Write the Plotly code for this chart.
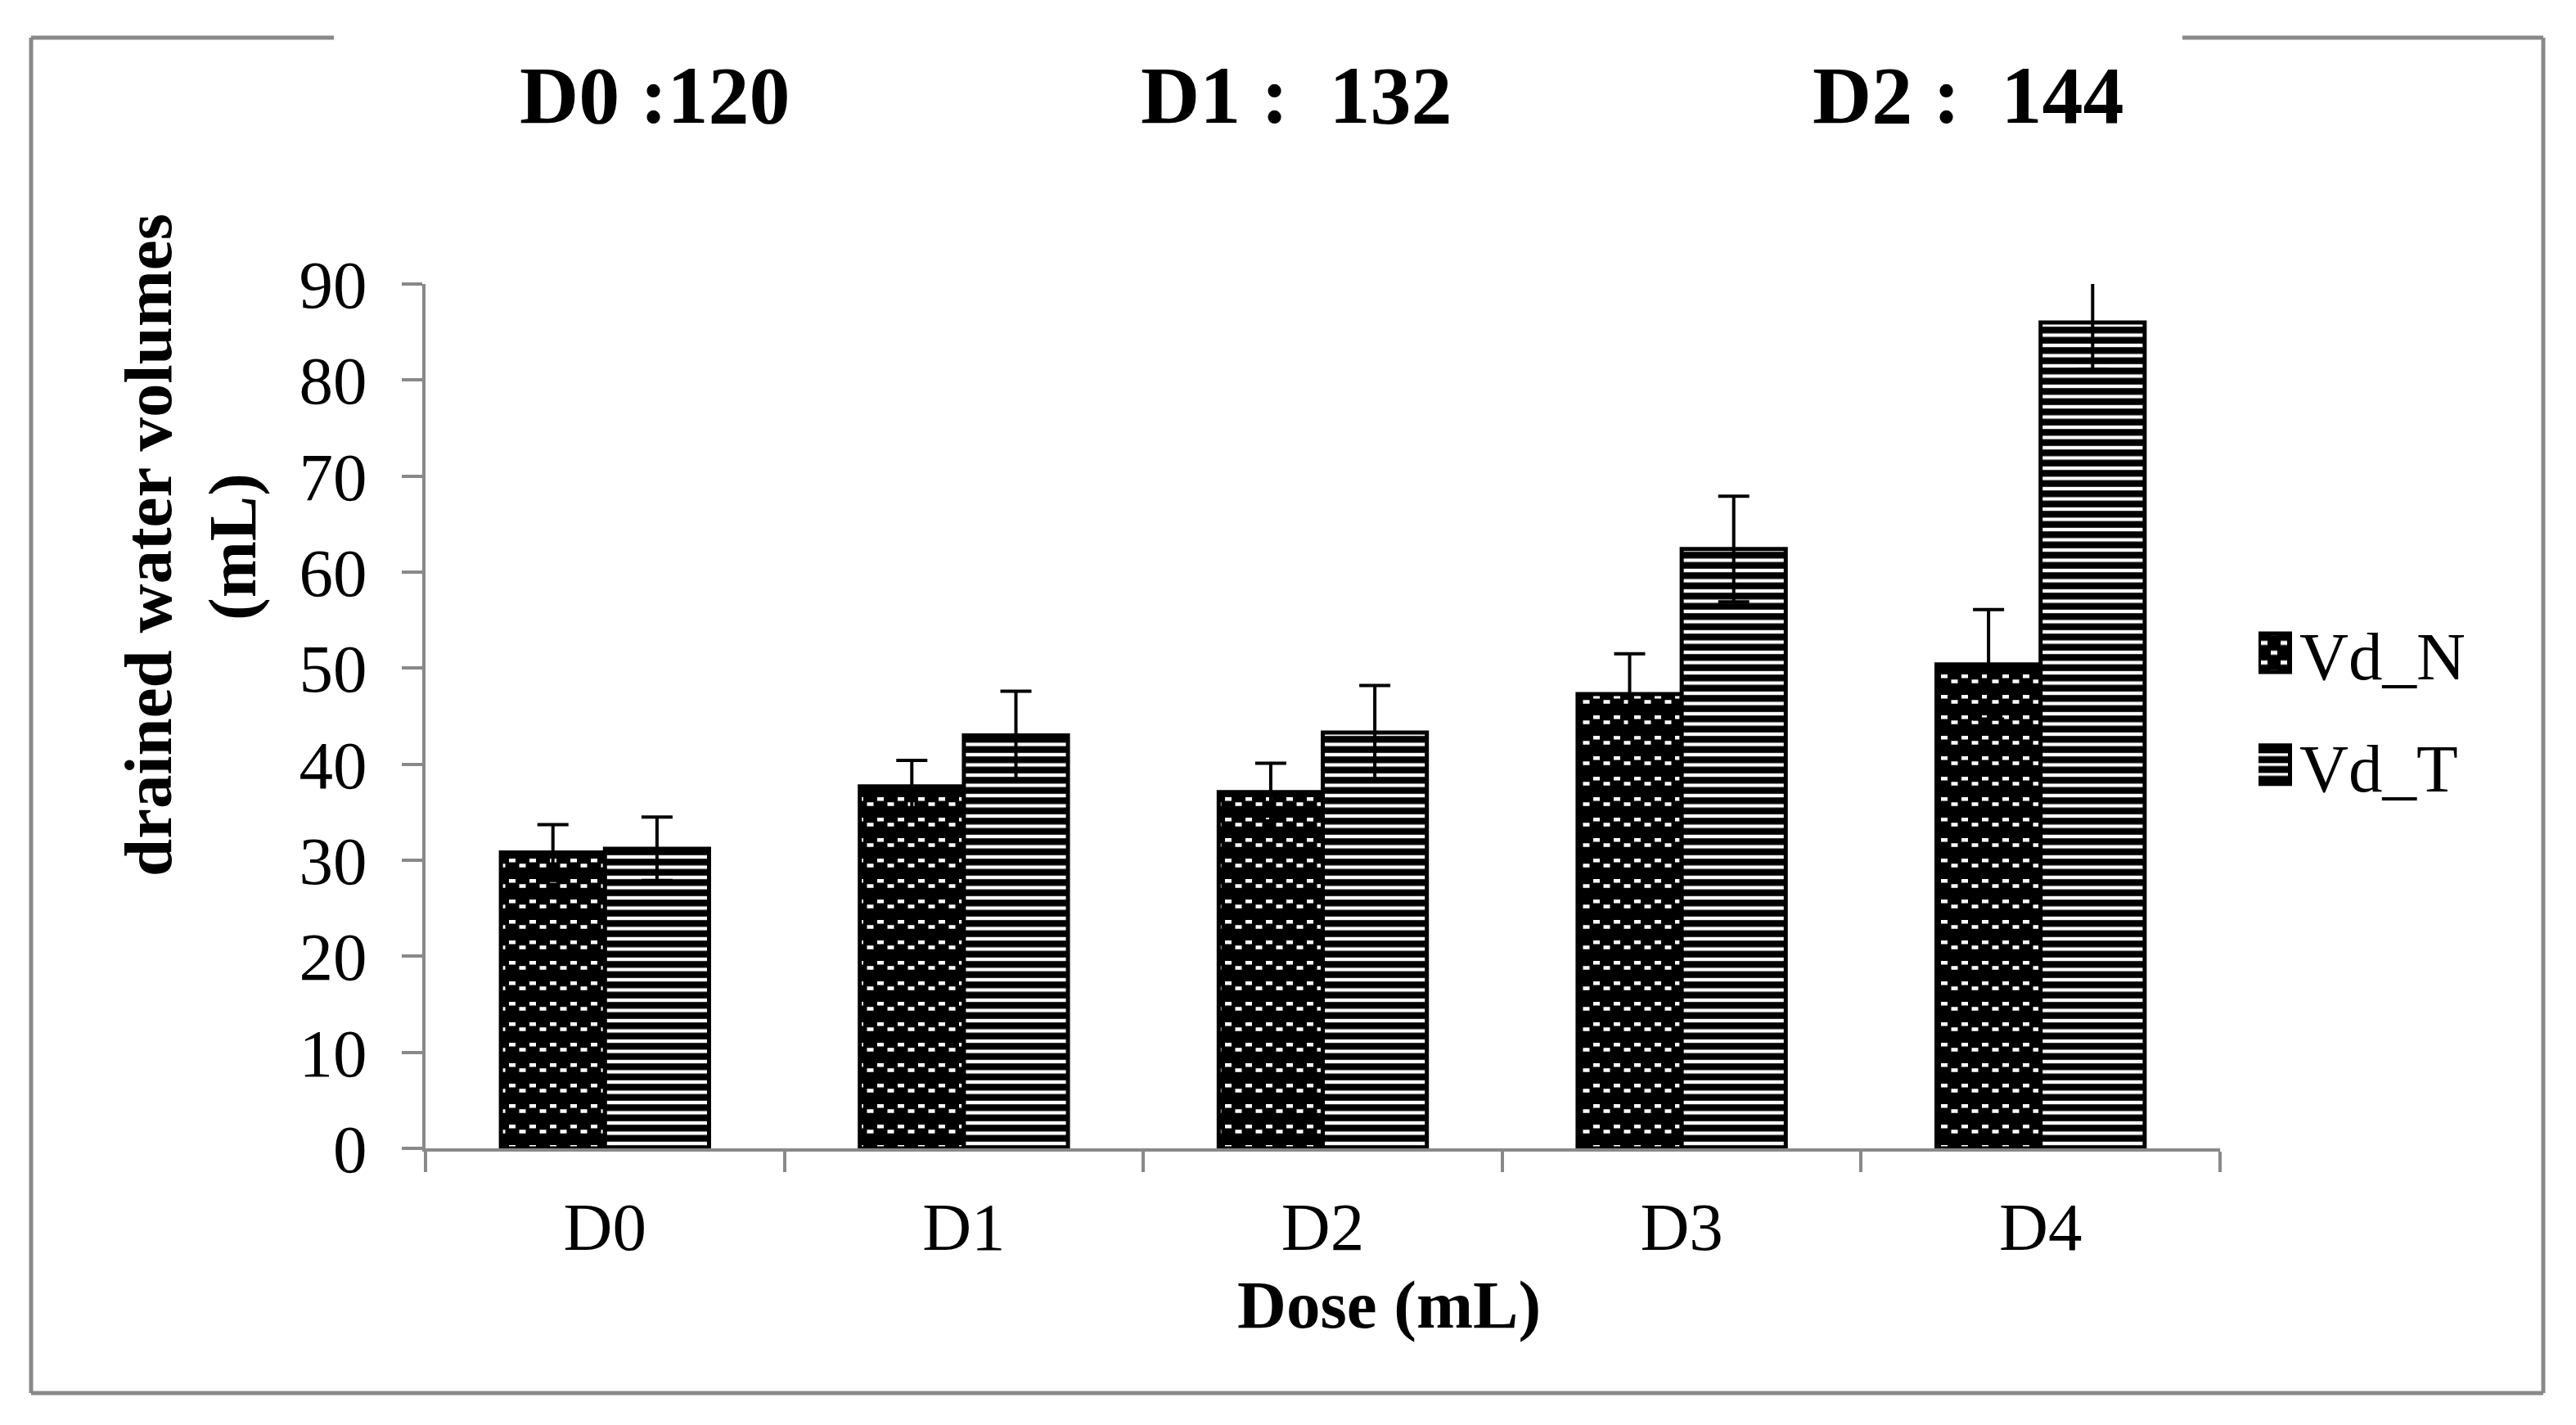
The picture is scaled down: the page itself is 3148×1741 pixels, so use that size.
import plotly.graph_objects as go

# ---- data ----
doses = ["D0", "D1", "D2", "D3", "D4"]
vd_n = [30.8, 37.7, 37.1, 47.3, 50.4]
vd_n_err = [2.9, 2.7, 3.0, 4.2, 5.7]
vd_t = [31.2, 43.0, 43.3, 62.4, 86.0]
vd_t_err = [3.3, 4.6, 4.9, 5.5, 4.9]
y_ticks = [0, 10, 20, 30, 40, 50, 60, 70, 80, 90]
top_labels = ["D0 :120", "D1 :\u00a0\u00a0132", "D2 :\u00a0\u00a0144"]

W, H = 3148, 1741
L, R, T, B = 520, 2713, 347, 1403  # plot area in pixels
FONT = "Liberation Serif"
GRAY = "#898989"


def px(x):
    return (x - L) / (R - L)


def py(y):
    return (B - y) / (B - T)


fig = go.Figure()
fig.add_trace(go.Bar(
    name="Vd_N", x=doses, y=vd_n, legendgroup="n",
    error_y=dict(type="data", array=vd_n_err, visible=True, color="black", thickness=4, width=19),
    marker=dict(color="black", line=dict(color="black", width=5),
                pattern=dict(path="M2,2h8v4.5h-8z M14.5,8.25h8v4.5h-8z", size=25,
                             bgcolor="black", fgcolor="white", fillmode="replace")),
))
fig.add_trace(go.Bar(
    name="Vd_T", x=doses, y=vd_t, legendgroup="t",
    error_y=dict(type="data", array=vd_t_err, visible=True, color="black", thickness=4, width=19),
    marker=dict(color="white", line=dict(color="black", width=5),
                pattern=dict(shape="-", size=12.5, solidity=0.66,
                             bgcolor="white", fgcolor="black", fillmode="replace")),
))

axis_common = dict(showline=True, linecolor=GRAY, linewidth=4, ticks="outside", ticklen=25,
                   tickwidth=4, tickcolor=GRAY, showgrid=False, zeroline=False,
                   tickfont=dict(family=FONT, size=83, color="black"))

fig.update_xaxes(type="category", tickson="boundaries", ticklabelstandoff=20, **axis_common)
fig.update_yaxes(range=[0, 90], tickvals=y_ticks, ticklabelstandoff=26, **axis_common)

annotations = []
for txt, xc in zip(top_labels, [800, 1584, 2405]):
    annotations.append(dict(text="<b>%s</b>" % txt, x=px(xc), y=py(116), xref="paper", yref="paper",
                            showarrow=False, xanchor="center", yanchor="middle",
                            font=dict(family=FONT, size=100, color="black")))
annotations.append(dict(text="<b>drained water volumes</b>", x=px(181), y=py(666), xref="paper", yref="paper",
                        showarrow=False, textangle=-90, xanchor="center", yanchor="middle",
                        font=dict(family=FONT, size=83, color="black")))
annotations.append(dict(text="<b>(mL)</b>", x=px(284), y=py(668), xref="paper", yref="paper",
                        showarrow=False, textangle=-90, xanchor="center", yanchor="middle",
                        font=dict(family=FONT, size=83, color="black")))
annotations.append(dict(text="<b>Dose (mL)</b>", x=px(1697), y=py(1594), xref="paper", yref="paper",
                        showarrow=False, xanchor="center", yanchor="middle",
                        font=dict(family=FONT, size=83, color="black")))

frame = dict(color=GRAY, width=5)
shapes = [
    dict(type="line", xref="paper", yref="paper", x0=px(38), x1=px(38), y0=py(46), y1=py(1702), line=frame),
    dict(type="line", xref="paper", yref="paper", x0=px(38), x1=px(3108), y0=py(1702), y1=py(1702), line=frame),
    dict(type="line", xref="paper", yref="paper", x0=px(3108), x1=px(3108), y0=py(46), y1=py(1702), line=frame),
    dict(type="line", xref="paper", yref="paper", x0=px(38), x1=px(408), y0=py(46), y1=py(46), line=frame),
    dict(type="line", xref="paper", yref="paper", x0=px(2667), x1=px(3108), y0=py(46), y1=py(46), line=frame),
]

fig.update_layout(
    width=W, height=H,
    margin=dict(l=L, r=W - R, t=T, b=H - B, autoexpand=False),
    paper_bgcolor="white", plot_bgcolor="white",
    barmode="group", bargap=0.42, bargroupgap=0,
    showlegend=True,
    legend=dict(x=px(2760), y=py(737), xanchor="left", yanchor="top", xref="paper", yref="paper",
                font=dict(family=FONT, size=83, color="black"), tracegroupgap=26,
                itemwidth=40, bgcolor="rgba(0,0,0,0)"),
    annotations=annotations, shapes=shapes,
    font=dict(family=FONT, color="black"),
)

post = """
(function(){
  document.documentElement.style.margin = '0';
  document.body.style.margin = '0';
  document.body.style.overflow = 'hidden';
  var ns = 'http://www.w3.org/2000/svg';
  function mkPat(svg, id, attrs, rects) {
    if (document.getElementById(id)) { return; }
    var defs = svg.querySelector('defs');
    if (!defs) { defs = document.createElementNS(ns, 'defs'); svg.insertBefore(defs, svg.firstChild); }
    var p = document.createElementNS(ns, 'pattern');
    p.setAttribute('id', id);
    p.setAttribute('patternUnits', 'userSpaceOnUse');
    for (var k in attrs) { p.setAttribute(k, attrs[k]); }
    rects.forEach(function(s){
      var r = document.createElementNS(ns, 'rect');
      for (var k2 in s) { r.setAttribute(k2, s[k2]); }
      p.appendChild(r);
    });
    defs.appendChild(p);
  }
  function fix(){
    var svg = document.querySelector('svg.main-svg');
    if (!svg) { return; }
    mkPat(svg, 'lgN', {x: -24, y: -18, width: 24, height: 24}, [
      {x: 0, y: 0, width: 24, height: 24, fill: 'black'},
      {x: 2, y: 3.5, width: 8, height: 5, fill: 'white'},
      {x: 14, y: 15.5, width: 8, height: 5, fill: 'white'}
    ]);
    mkPat(svg, 'lgT', {x: 0, y: -2, width: 20, height: 12}, [
      {x: 0, y: 0, width: 20, height: 12, fill: 'black'},
      {x: 0, y: 0, width: 20, height: 3.5, fill: 'white'}
    ]);
    var paths = document.querySelectorAll('g.legendpoints path');
    paths.forEach(function(p, i){
      p.setAttribute('d', 'M13.5,23.5H-33.5V-23.5H13.5Z');
      p.style.strokeWidth = '5px';
      p.style.stroke = 'black';
      p.style.fill = (i === 0) ? 'url(#lgN)' : 'url(#lgT)';
    });
  }
  fix();
  var n = 0;
  var iv = setInterval(function(){ fix(); n += 1; if (n > 40) { clearInterval(iv); } }, 50);
  var gd = document.getElementById('{plot_id}');
  if (gd && gd.on) { gd.on('plotly_afterplot', fix); }
})();
"""

fig.write_html("out.html", post_script=post, config={"displayModeBar": False})
